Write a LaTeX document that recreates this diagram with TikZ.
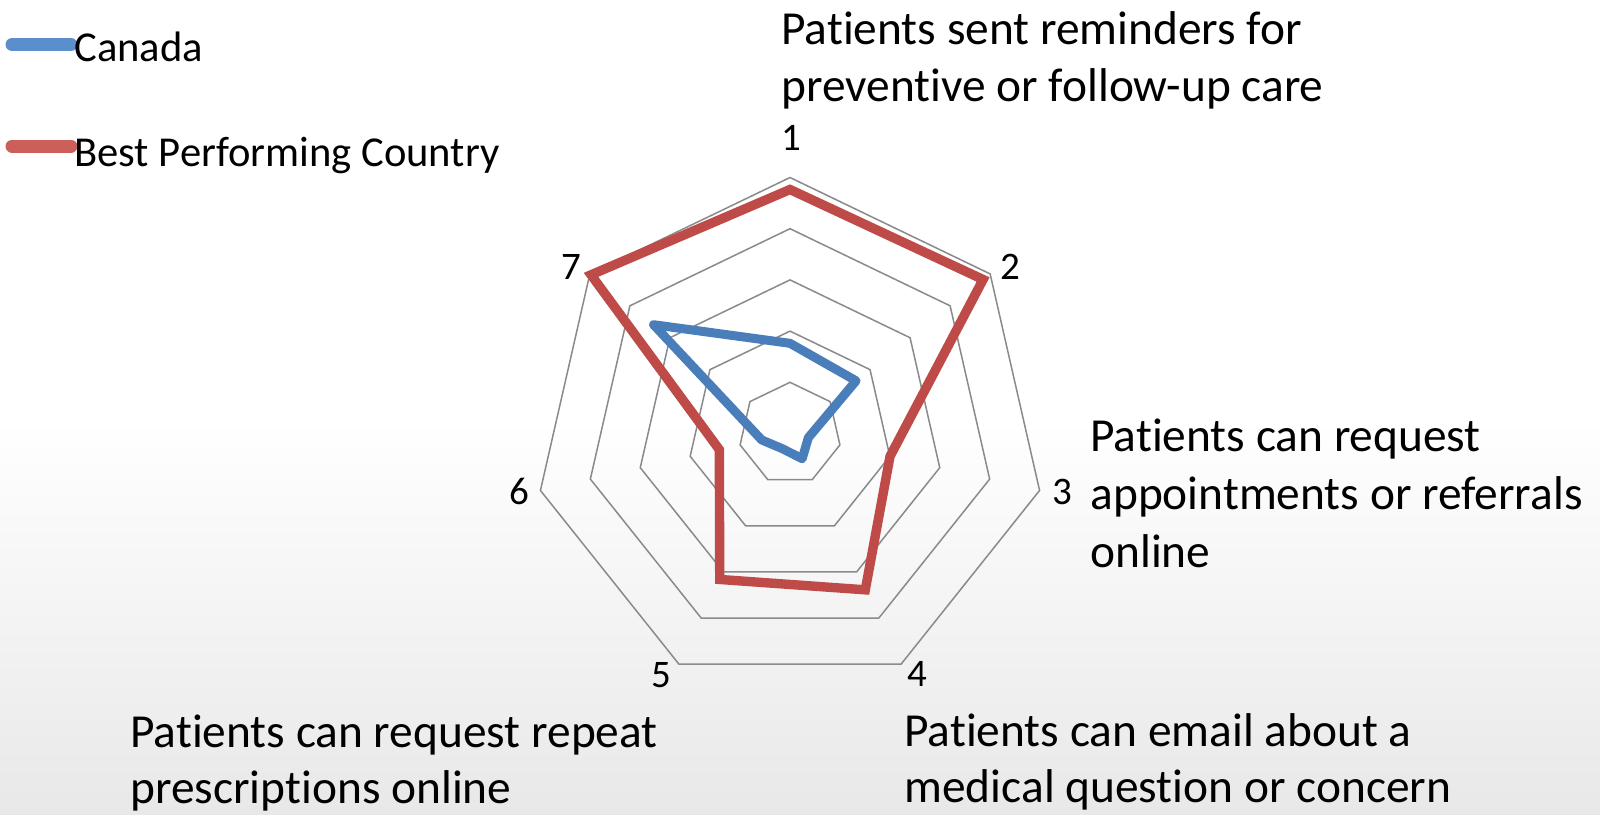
\documentclass[tikz,border=0pt]{standalone}
\usepackage{fontspec}
\setmainfont{Carlito}[Ligatures={NoCommon,NoContextual,NoRequired},Contextuals=NoAlternate]
\definecolor{gridgray}{HTML}{8A8A8A}
\definecolor{canblue}{HTML}{4A7EBB}
\definecolor{bestred}{HTML}{BE4B48}
\definecolor{legblue}{HTML}{5B8FCB}
\definecolor{legred}{HTML}{CD5F5A}
\begin{document}
\begin{tikzpicture}[x=0.5pt,y=-0.5pt,
  ring/.style={draw=gridgray,line width=0.75pt,line join=miter},
  redline/.style={draw=bestred,line width=4.7pt,line join=miter},
  blueline/.style={draw=canblue,line width=4.5pt,line join=round},
  legline/.style={line width=6.5pt,line cap=round},
  lab/.style={anchor=base west,inner sep=0pt,font=\fontsize{23.7}{28}\selectfont},
  leg/.style={anchor=base west,inner sep=0pt,font=\fontsize{21.3}{26}\selectfont},
  num/.style={anchor=base west,inner sep=0pt,font=\fontsize{19.5}{23}\selectfont}]
\useasboundingbox (0,0) rectangle (1600,814);
\fill[white] (0,0) rectangle (1600,814);
\shade[top color=white,bottom color=black!9] (0,420) rectangle (1600,814);
% radar rings
\begin{scope}[shift={(790,433.5)},yscale=-1]
  \foreach \r in {51.2,102.4,153.6,204.8,256}{
    \draw[ring] (90:\r) -- (38.571:\r) -- (-12.857:\r) -- (-64.286:\r) -- (-115.714:\r) -- (-167.143:\r) -- (141.429:\r) -- cycle;
  }
  % best performing country
  \coordinate (r1) at (90:244);
  \coordinate (r2) at (38.571:247);
  \coordinate (r3) at (-12.857:102.6);
  \coordinate (r4) at (-64.286:173.5);
  \coordinate (r5) at (-115.714:162);
  \coordinate (r6) at (-167.143:72.5);
  \coordinate (r7) at (141.429:254.5);
  \draw[redline] (r1) -- (r2) -- (r3) -- (r4) -- (r5) -- (r6) -- (r7) -- cycle;
  % canada
  \coordinate (b1) at (90:90.2);
  \coordinate (b2) at (38.571:84.5);
  \coordinate (b3) at (-12.857:18.8);
  \coordinate (b4) at (-64.286:28);
  \coordinate (b5) at (-115.714:17);
  \coordinate (b6) at (-167.143:29);
  \coordinate (b7) at (141.429:174.5);
  \draw[blueline] (b1) -- (b2) -- (b3) -- (b4) -- (b5) -- (b6) -- (b7) -- cycle;
\end{scope}
% legend
\coordinate (lb1) at (12,44.5);
\coordinate (lb2) at (71,44.5);
\coordinate (lr1) at (12,146);
\coordinate (lr2) at (71,146);
\draw[legline,legblue] (lb1) -- (lb2);
\draw[legline,legred] (lr1) -- (lr2);
\node[leg] (legc) at (74,61.5) {Canada};
\node[leg] (legb) at (74,166.5) {Best Performing Country};
% axis numbers
\node[num] (n1) at (781,150) {1};
\node[num] (n2) at (1000,279) {2};
\node[num] (n3) at (1052,504) {3};
\node[num] (n4) at (907,686) {4};
\node[num] (n5) at (651,687) {5};
\node[num] (n6) at (509,504) {6};
\node[num] (n7) at (561,279) {7};
% category labels
\node[lab] (l1a) at (781,44) {Patients sent reminders for};
\node[lab] (l1b) at (781,101) {preventive or follow-up care};
\node[lab] (l3a) at (1090,451) {Patients can request};
\node[lab] (l3b) at (1090,509) {appointments or referrals};
\node[lab] (l3c) at (1090,567) {online};
\node[lab] (l4a) at (904,746) {Patients can email about a};
\node[lab] (l4b) at (904,802) {medical question or concern};
\node[lab] (l5a) at (130,747) {Patients can request repeat};
\node[lab] (l5b) at (130,803) {prescriptions online};
\end{tikzpicture}
\end{document}
